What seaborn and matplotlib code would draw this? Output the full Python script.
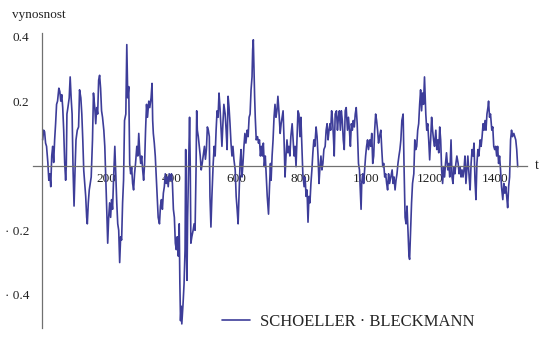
import matplotlib
matplotlib.use("Agg")
import matplotlib.pyplot as plt
from matplotlib.ticker import MultipleLocator
import seaborn as sns
import pandas as pd

# trading day index, read in segments
t = ([2, 5, 8, 11, 14, 18, 21, 24, 27, 30, 33, 36, 39, 42, 45, 48, 52, 55, 58, 61, 64, 67, 70, 73, 75,
      77, 80, 84, 87, 90, 93, 96, 99, 102, 105, 109, 113, 116, 120, 123, 126, 129, 132, 135, 138, 140,
      143, 146, 149, 152, 156]
     + [159, 163, 166, 169, 172, 175, 178, 181, 184, 187, 191, 194, 197, 200, 203, 206, 209, 212, 215,
        218, 221, 225, 228, 231, 234, 237, 240, 243, 246, 249, 252, 255, 259, 262, 265, 268, 271, 274,
        277, 280, 283, 286, 289, 293, 296, 299, 302, 305, 308, 311, 314, 317, 320, 323, 326, 330, 333]
     + [337, 340, 342, 344, 347, 350, 353, 356, 359, 363, 366, 369, 372, 375, 378, 381, 384, 387, 390,
        393, 397, 400, 403, 406, 409, 412, 415, 418, 421, 424, 426, 428, 430, 432, 436, 439, 442, 444,
        446, 448, 450, 453, 456, 458, 460, 463, 467, 470, 473, 476, 478, 480, 483, 486, 489, 492, 495,
        498, 502, 505, 508, 511, 514, 517, 519]
     + [522, 525, 529, 532, 535, 538, 541, 544, 547, 550, 553, 556, 559, 562, 566, 569, 572, 575, 578,
        581, 584, 587, 590, 593, 597, 600, 603, 606, 609, 612, 615, 618, 621, 624, 627, 630, 634, 637,
        640, 643, 646, 649, 651, 653, 655, 657, 659, 662, 666, 669, 672, 675, 678, 681, 684, 687, 690,
        693, 696, 700, 703, 706]
     + [708, 711, 714, 717, 720, 723, 726, 729, 732, 736, 739, 742, 745, 748, 751, 754, 757, 760, 763,
        766, 769, 773, 776, 779, 782, 785, 788, 791, 794, 797, 800, 803, 806, 810, 813, 816, 819, 822,
        825, 828, 831, 834, 837, 840, 843, 847, 850, 853, 856, 859, 862, 865, 868, 871, 875, 878, 881,
        884, 887, 890]
     + [892, 895, 898, 901, 903, 906, 910, 913, 916, 919, 922, 925, 928, 931, 934, 937, 940, 944, 947,
        950, 953, 956, 959, 962, 965, 968, 971, 974, 978, 981, 983, 986, 988, 991, 994, 997, 1000, 1003,
        1006, 1009, 1013, 1016, 1019, 1022, 1025, 1028, 1031, 1034, 1037, 1040, 1043, 1047, 1050, 1053,
        1056, 1059, 1062, 1065, 1068, 1071, 1074]
     + [1078, 1082, 1085, 1088, 1091, 1094, 1097, 1100, 1103, 1106, 1109, 1112, 1116, 1119, 1122, 1125,
        1128, 1131, 1134, 1136, 1139, 1142, 1145, 1149, 1152, 1155, 1158, 1161, 1164, 1167, 1170, 1173,
        1176, 1179, 1182, 1186, 1189, 1192, 1195, 1198, 1201, 1204, 1207, 1210, 1213, 1217, 1220, 1223,
        1226, 1229, 1232, 1235, 1238, 1241, 1244, 1247, 1250, 1254, 1257, 1260]
     + [1264, 1267, 1270, 1273, 1276, 1279, 1282, 1286, 1289, 1292, 1295, 1298, 1301, 1304, 1307, 1310,
        1313, 1316, 1320, 1323, 1326, 1329, 1332, 1335, 1338, 1341, 1344, 1347, 1350, 1354, 1357, 1360,
        1363, 1366, 1369, 1372, 1375, 1378, 1380, 1383, 1386, 1390, 1393, 1396, 1399, 1402, 1405, 1408,
        1411, 1414, 1417, 1420, 1424, 1427, 1430, 1433, 1436, 1439, 1442, 1445, 1448, 1451, 1454, 1458,
        1461, 1464, 1467, 1470])

# return (vynosnost) at each t
vynosnost = ([0.08, 0.11, 0.105, 0.07, 0.06, 0.01, -0.045, -0.025, -0.065, 0.03, 0.06, 0.01, 0.08, 0.13,
              0.19, 0.2, 0.24, 0.23, 0.2, 0.22, 0.18, 0.11, 0.01, -0.045, 0.0, 0.16, 0.18, 0.21, 0.275,
              0.21, 0.16, -0.015, -0.125, -0.015, 0.08, 0.11, 0.12, 0.235, 0.21, 0.16, 0.08, -0.015,
              -0.055, -0.095, -0.16, -0.18, -0.115, -0.075, -0.055, -0.035, 0.08]
             + [0.225, 0.18, 0.13, 0.18, 0.16, 0.265, 0.28, 0.24, 0.17, 0.15, 0.11, 0.06, -0.035, -0.135,
                -0.24, -0.16, -0.115, -0.16, -0.105, -0.135, -0.045, 0.06, -0.025, -0.115, -0.18, -0.2,
                -0.3, -0.22, -0.23, -0.115, -0.045, 0.14, 0.16, 0.375, 0.21, 0.245, 0.005, -0.025, -0.005,
                -0.055, -0.075, -0.025, 0.007, 0.06, 0.03, 0.1, 0.04, 0.007, 0.03, -0.013, -0.045, 0.007,
                0.11, 0.19, 0.15, 0.2, 0.18]
             + [0.21, 0.255, 0.14, 0.1, 0.07, 0.03, -0.035, -0.095, -0.16, -0.18, -0.125, -0.105, -0.135,
                -0.085, -0.065, -0.025, -0.055, -0.035, -0.065, -0.025, -0.045, -0.025, -0.055, -0.135,
                -0.16, -0.24, -0.26, -0.22, -0.28, -0.18, -0.365, -0.48, -0.435, -0.49, -0.425, -0.365,
                -0.26, 0.05, -0.25, -0.355, -0.16, -0.013, 0.15, 0.007, -0.24, -0.22, -0.2, -0.18, -0.2,
                -0.013, 0.17, 0.11, 0.09, 0.06, 0.03, -0.013, 0.007, 0.03, 0.06, 0.02, 0.05, 0.12, 0.11,
                0.09, -0.095]
             + [-0.19, -0.095, 0.007, 0.06, 0.03, 0.11, 0.17, 0.15, 0.225, 0.18, 0.12, 0.06, 0.13, 0.19,
                0.16, 0.11, 0.05, 0.215, 0.18, 0.13, 0.07, 0.03, 0.06, 0.02, -0.013, -0.095, -0.135, -0.18,
                -0.085, 0.007, 0.05, -0.035, 0.007, 0.06, 0.1, 0.07, 0.11, 0.09, 0.15, 0.16, 0.235, 0.275,
                0.36, 0.39, 0.305, 0.215, 0.15, 0.08, 0.09, 0.07, 0.08, 0.03, 0.06, 0.03, 0.07, -0.003,
                0.03, -0.035, -0.095, -0.15, -0.065, 0.007]
             + [-0.045, 0.03, 0.08, 0.15, 0.19, 0.15, 0.17, 0.215, 0.17, 0.1, 0.13, 0.15, 0.17, 0.08,
                -0.035, 0.03, 0.08, 0.04, 0.06, 0.03, 0.09, 0.13, 0.08, 0.03, 0.06, -0.003, 0.08, 0.17,
                0.16, 0.09, 0.15, 0.06, -0.025, -0.065, -0.035, -0.095, -0.075, -0.175, -0.095, -0.115,
                -0.055, -0.013, 0.04, 0.08, 0.06, 0.12, 0.09, 0.03, -0.055, -0.003, 0.03, -0.013, 0.007,
                0.05, 0.06, 0.11, 0.13, 0.08, 0.11, 0.13]
             + [0.11, 0.17, 0.14, 0.08, 0.03, 0.16, 0.17, 0.11, 0.15, 0.17, 0.11, 0.17, 0.14, 0.08, 0.05,
                0.17, 0.18, 0.11, 0.15, 0.11, 0.06, 0.13, 0.11, 0.14, 0.12, 0.16, 0.18, 0.13, 0.007,
                -0.013, -0.065, -0.135, -0.055, -0.025, -0.055, -0.013, 0.03, 0.06, 0.08, 0.05, 0.08,
                0.06, 0.1, 0.007, 0.03, 0.11, 0.16, 0.14, 0.11, 0.07, 0.09, 0.11, 0.05, -0.003, 0.007,
                -0.035, -0.025, -0.055, -0.075, -0.025, -0.055]
             + [-0.035, -0.013, -0.055, -0.035, -0.075, -0.045, -0.025, 0.007, 0.03, 0.05, 0.08, 0.14,
                0.16, -0.013, -0.16, -0.18, -0.125, -0.2, -0.28, -0.29, -0.2, -0.115, -0.055, -0.025,
                0.08, 0.05, 0.06, 0.11, 0.13, 0.19, 0.235, 0.17, 0.225, 0.19, 0.275, 0.16, 0.11, 0.13,
                0.08, 0.018, 0.08, 0.15, 0.11, 0.08, 0.06, 0.11, 0.05, 0.08, 0.04, 0.12, 0.08, -0.013,
                -0.055, -0.003, -0.035, 0.007, 0.04, -0.013, 0.007, -0.035]
             + [0.08, -0.035, -0.055, -0.003, -0.025, 0.007, 0.03, 0.007, -0.025, -0.003, -0.035, -0.013,
                -0.035, -0.013, 0.03, -0.055, -0.013, 0.03, -0.035, -0.075, 0.007, 0.05, 0.03, 0.07,
                -0.045, -0.105, 0.007, 0.05, 0.03, 0.08, 0.06, 0.09, 0.13, 0.11, 0.14, 0.11, 0.16, 0.18,
                0.2, 0.15, 0.16, 0.11, 0.12, 0.06, 0.05, 0.06, 0.03, 0.06, 0.007, 0.03, -0.013, -0.065,
                -0.105, -0.055, -0.085, -0.065, -0.095, -0.13, -0.065, -0.035, 0.08, 0.11, 0.09, 0.1,
                0.09, 0.08, 0.05, -0.003])

x_ticks = [200, 400, 600, 800, 1000, 1200, 1400]
y_ticks = [-0.4, -0.2, 0.2, 0.4]
y_tick_labels = ["· 0.4", "· 0.2", "0.2", "0.4"]
series_name = "SCHOELLER · BLECKMANN"

sns.set_style("white")
plt.rcParams["font.family"] = ["Liberation Serif", "DejaVu Serif"]

line_color = "#3d3d99"
axis_color = "#707070"

df = pd.DataFrame({"t": t, "vynosnost": vynosnost})

fig = plt.figure(figsize=(5.49, 3.41), dpi=100)
ax = fig.add_axes([0.0592, 0.0387, 0.9011, 0.8636])

sns.lineplot(data=df, x="t", y="vynosnost", ax=ax, color=line_color, linewidth=1.2,
             estimator=None, label=series_name, clip_on=False)

ax.set_xlim(-29.4, 1499.4)
ax.set_ylim(-0.502, 0.41)

# axes crossing at the origin
ax.spines["left"].set_position(("data", 0))
ax.spines["bottom"].set_position(("data", 0))
ax.spines["top"].set_visible(False)
ax.spines["right"].set_visible(False)
for s in ("left", "bottom"):
    ax.spines[s].set_color(axis_color)
    ax.spines[s].set_linewidth(0.9)

ax.set_xticks(x_ticks)
ax.set_xticklabels([str(v) for v in x_ticks])
ax.xaxis.set_minor_locator(MultipleLocator(50))
ax.set_yticks(y_ticks)
ax.set_yticklabels(y_tick_labels)
ax.yaxis.set_minor_locator(MultipleLocator(0.05))

ax.tick_params(axis="both", which="major", direction="in", length=4, width=0.8,
               color=axis_color, labelsize=9.5, labelcolor="#222222")
ax.tick_params(axis="x", which="major", pad=5)
ax.tick_params(axis="y", which="major", pad=9)
ax.tick_params(axis="both", which="minor", direction="in", length=2.2, width=0.7,
               color=axis_color)
ax.set_xlabel("")
ax.set_ylabel("")

fig.text(0.022, 0.955, "vynosnost", fontsize=9.5, color="#222222", va="center", ha="left")
fig.text(0.978, 0.515, "t", fontsize=10, color="#222222", va="center", ha="center")

ax.legend(loc="center left", bbox_to_anchor=(0.404, 0.056), bbox_transform=fig.transFigure,
          frameon=False, fontsize=12, handlelength=1.7, handletextpad=0.6,
          borderpad=0, borderaxespad=0)

fig.savefig("out.png", dpi=100)
